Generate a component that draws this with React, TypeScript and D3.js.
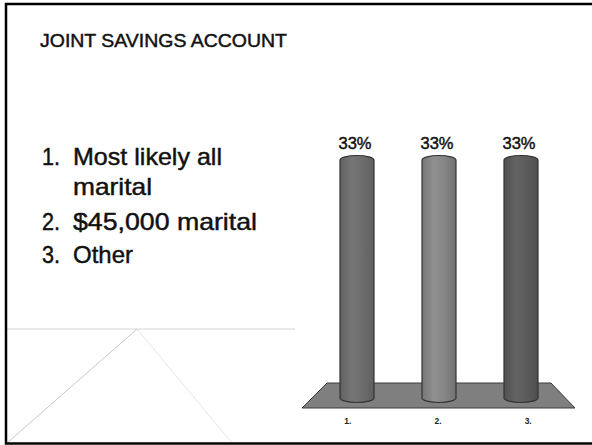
import React from 'react';
import * as d3 from 'd3';

const title = 'JOINT SAVINGS ACCOUNT';
const listNumbers = ['1.', '2.', '3.'];
const listLines = [['Most likely all', 'marital'], ['$45,000 marital'], ['Other']];
const categories = ['1.', '2.', '3.'];
const values = [33, 33, 33];
const valueLabels = ['33%', '33%', '33%'];
const barColors = ['#6e6e6e', '#868686', '#5c5c5c'];

const W = 592;
const H = 445;

// measured widths of the text lines in the reference
const lineWidths = [149, 79, 184, 60];

export default function App() {
  const x = d3.scalePoint<string>().domain(categories).range([357, 521]);
  const y = d3.scaleLinear().domain([0, 33]).range([398, 160]);
  const halfW = 17;
  const ry = 4.5;
  const first = x(categories[0])!;
  const last = x(categories[categories.length - 1])!;
  const mid = (first + last) / 2;
  const floorTop = y(0) - 15;
  const floorBottom = y(0) + 10;
  const floorPts: [number, number][] = [
    [first - 30, floorTop],
    [last + 30, floorTop],
    [last + 54, floorBottom],
    [first - 55, floorBottom],
  ];
  const floorPath = d3.line()(floorPts) + 'Z';

  const barPath = (cx: number, top: number, bottom: number) => {
    const l = cx - halfW;
    const r = cx + halfW;
    return `M${l},${top} L${l},${bottom} A${halfW},${ry} 0 0 0 ${r},${bottom} L${r},${top} A${halfW},${ry} 0 0 0 ${l},${top} Z`;
  };

  const lineYs = [165, 195, 230, 263];
  let li = 0;
  const listEls: JSX.Element[] = [];
  listLines.forEach((lines, i) => {
    lines.forEach((t, j) => {
      const k = li++;
      const yy = lineYs[k];
      if (j === 0)
        listEls.push(
          <text key={`n${i}`} x={42} y={yy} fontSize={24} textLength={18} lengthAdjust="spacingAndGlyphs">
            {listNumbers[i]}
          </text>
        );
      listEls.push(
        <text
          key={`t${i}-${j}`}
          x={73}
          y={yy}
          fontSize={24}
          textLength={lineWidths[k]}
          lengthAdjust="spacingAndGlyphs"
        >
          {t}
        </text>
      );
    });
  });

  return (
    <svg
      width={W}
      height={H}
      style={{ position: 'absolute', left: 0, top: 0, background: '#fff' }}
      fontFamily="'Liberation Sans', Arial, sans-serif"
    >
      <defs>
        {barColors.map((c, i) => {
          const base = d3.color(c)!;
          return (
            <linearGradient key={i} id={`g${i}`} x1="0" x2="1" y1="0" y2="0">
              <stop offset="0%" stopColor={base.darker(0.35).toString()} />
              <stop offset="35%" stopColor={base.brighter(0.2).toString()} />
              <stop offset="65%" stopColor={c} />
              <stop offset="100%" stopColor={base.darker(0.45).toString()} />
            </linearGradient>
          );
        })}
      </defs>
      <rect x={0} y={0} width={W} height={H} fill="#fff" />
      {/* faint decoration lines */}
      <line x1={7} y1={329} x2={295} y2={329} stroke="#d4d4d4" strokeWidth={1} />
      <line x1={7} y1={443} x2={137} y2={329} stroke="#c8c8c8" strokeWidth={1} />
      <line x1={137} y1={329} x2={232} y2={443} stroke="#e6e6e6" strokeWidth={1} />
      {/* border */}
      <rect x={6} y={4} width={620} height={439.5} fill="none" stroke="#000" strokeWidth={2.5} />
      <text
        x={40}
        y={47}
        fontSize={18.5}
        fill="#111"
        stroke="#111"
        strokeWidth={0.45}
        textLength={247}
        lengthAdjust="spacingAndGlyphs"
      >
        {title}
      </text>
      <g fill="#111" stroke="#111" strokeWidth={0.45}>
        {listEls}
      </g>
      {/* floor */}
      <path d={floorPath} fill="#7f7f7f" stroke="#3c3c3c" strokeWidth={1} />
      {/* bars */}
      {categories.map((c, i) => {
        const cx = x(c)!;
        return (
          <g key={c}>
            <path
              d={barPath(cx, y(values[i]), y(0))}
              fill={`url(#g${i})`}
              stroke="#333"
              strokeWidth={1.2}
            />
            <text
              x={cx - 2}
              y={y(values[i]) - 11}
              textAnchor="middle"
              fontSize={16}
              fill="#111"
              stroke="#111"
              strokeWidth={0.45}
              textLength={33}
              lengthAdjust="spacingAndGlyphs"
            >
              {valueLabels[i]}
            </text>
            <text
              x={mid + (cx - mid) * 1.1 - 1}
              y={y(0) + 26}
              textAnchor="middle"
              fontSize={8.5}
              fontWeight="bold"
              fill="#222"
            >
              {c}
            </text>
          </g>
        );
      })}
    </svg>
  );
}
